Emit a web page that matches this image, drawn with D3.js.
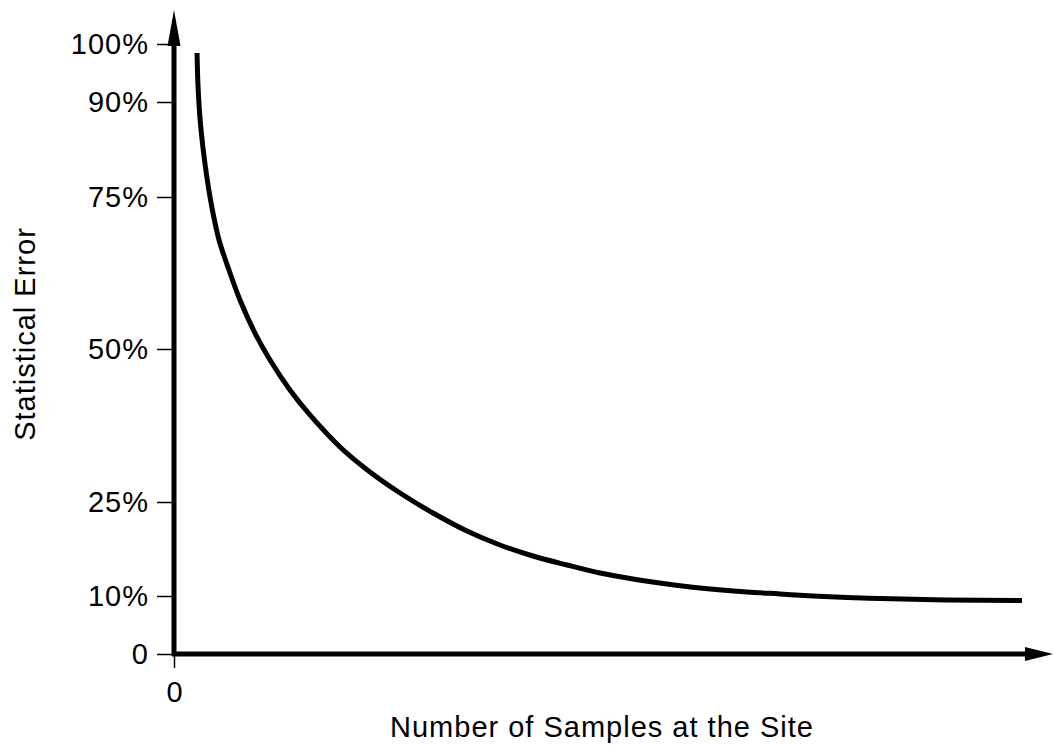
<!DOCTYPE html>
<html>
<head>
<meta charset="utf-8">
<script src="https://cdn.jsdelivr.net/npm/d3@7"></script>
<style>
  html, body { margin: 0; padding: 0; background: #fff; }
  svg { display: block; }
  text { font-family: "Liberation Sans", Arial, Helvetica, sans-serif; fill: #000; }
</style>
</head>
<body>
<svg id="chart" width="1054" height="746"></svg>
<script>
// ---- data ----
const samples = [2.66, 2.77, 3.00, 3.35, 3.81, 4.39, 5.20, 6.35, 7.62, 9.35, 11.09, 13.39, 15.70, 19.17, 22.63, 26.10, 29.91, 33.83, 37.64, 41.45, 45.38, 49.19, 53.00, 56.93, 60.74, 66.17, 69.98, 73.79, 77.71, 81.52, 85.33, 89.26, 97.92];
const errorPct = [98.45, 92.93, 87.47, 82.74, 78.00, 73.19, 67.93, 62.99, 58.06, 52.63, 48.20, 43.30, 39.22, 33.99, 29.90, 26.47, 23.24, 20.37, 18.14, 16.38, 14.95, 13.67, 12.71, 11.91, 11.28, 10.64, 10.32, 10.0, 9.74, 9.57, 9.43, 9.31, 9.22];
const yTickValues = [0, 10, 25, 50, 75, 90, 100];
const yTickLabels = ["0", "10%", "25%", "50%", "75%", "90%", "100%"];
const xTickValues = [0];
const xTickLabels = ["0"];
const xTitle = "Number of Samples at the Site";
const yTitle = "Statistical Error";

// ---- layout ----
const svg = d3.select("#chart");
const x0 = 174, y0 = 654;
const x = d3.scaleLinear().domain([0, 100]).range([x0, 1040]);
const y = d3.scaleLinear().domain(yTickValues).range([654, 596, 502, 349, 197, 102, 44]);

const fontSize = 29, ls = "1px";
const ff = "'Liberation Sans', Arial, sans-serif";

// y axis ticks
const yAxis = d3.axisLeft(y)
  .tickValues(yTickValues)
  .tickFormat((d, i) => yTickLabels[i])
  .tickSize(17)
  .tickPadding(8);
const gy = svg.append("g").attr("transform", `translate(${x0},0)`).call(yAxis);
gy.select(".domain").remove();
gy.selectAll(".tick line").attr("stroke", "#000").attr("stroke-width", 1.5);
gy.selectAll(".tick text")
  .attr("font-size", fontSize)
  .attr("letter-spacing", ls)
  .attr("font-family", ff)
  .attr("fill", "#000");

// x axis ticks
const xAxis = d3.axisBottom(x)
  .tickValues(xTickValues)
  .tickFormat((d, i) => xTickLabels[i])
  .tickSize(14)
  .tickPadding(13);
const gx = svg.append("g").attr("transform", `translate(0,${y0})`).call(xAxis);
gx.select(".domain").remove();
gx.selectAll(".tick line").attr("stroke", "#000").attr("stroke-width", 1.5);
gx.selectAll(".tick text")
  .attr("font-size", fontSize)
  .attr("font-family", ff)
  .attr("fill", "#000");

// thick axis lines with arrows
svg.append("line")
  .attr("x1", x0).attr("y1", y0 + 2).attr("x2", x0).attr("y2", 40)
  .attr("stroke", "#000").attr("stroke-width", 5);
svg.append("path")
  .attr("d", `M${x0},10 L${x0 - 6.5},46 L${x0 + 6.5},46 Z`)
  .attr("fill", "#000");
svg.append("line")
  .attr("x1", x0 - 2).attr("y1", y0).attr("x2", 1030).attr("y2", y0)
  .attr("stroke", "#000").attr("stroke-width", 5);
svg.append("path")
  .attr("d", `M1053,${y0} L1025,${y0 - 7} L1025,${y0 + 7} Z`)
  .attr("fill", "#000");

// curve
const pts = samples.map((s, i) => [s, errorPct[i]]);
const line = d3.line()
  .x(d => x(d[0]))
  .y(d => y(d[1]))
  .curve(d3.curveCatmullRom.alpha(0.5));
svg.append("path")
  .datum(pts)
  .attr("d", line)
  .attr("fill", "none")
  .attr("stroke", "#000")
  .attr("stroke-width", 5)
  .attr("stroke-linecap", "butt");

// titles
svg.append("text")
  .attr("x", 602).attr("y", 737)
  .attr("text-anchor", "middle")
  .attr("font-size", fontSize)
  .attr("letter-spacing", ls)
  .text(xTitle);
svg.append("text")
  .attr("transform", "translate(35,334) rotate(-90)")
  .attr("text-anchor", "middle")
  .attr("font-size", fontSize)
  .attr("letter-spacing", ls)
  .text(yTitle);
</script>
</body>
</html>
